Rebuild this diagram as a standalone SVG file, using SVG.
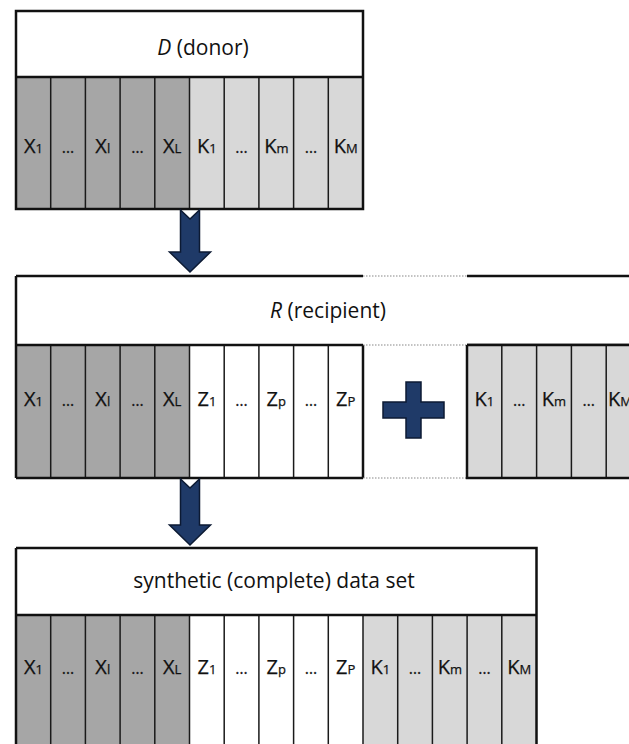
<svg xmlns="http://www.w3.org/2000/svg" width="629" height="744" viewBox="0 0 629 744">
<style>
.dk{fill:#a6a6a6}
.lt{fill:#d8d8d8}
.wh{fill:#ffffff}
.div{stroke:#1a1a1a;stroke-width:1.5;fill:none}
.out{stroke:#111;stroke-width:2.5;fill:none}
.dot{stroke:#888;stroke-width:1.2;stroke-dasharray:1.5 1.5;fill:none}
.hd{font-family:"Open Sans",Lato,sans-serif;font-size:21px;fill:#111;text-anchor:middle}
.lb{font-family:"Open Sans",Lato,sans-serif;font-size:20px;fill:#111;text-anchor:middle;stroke:#111;stroke-width:0.25}
.sb{font-size:13px}
.el{font-size:16px}
.arr{fill:#1f3a68;stroke:#0c1a33;stroke-width:1.5;stroke-linejoin:miter}
</style>
<rect width="629" height="744" fill="#ffffff"/>

<!-- D (donor) -->
<g id="node-donor">
  <rect x="16" y="11" width="347" height="66" class="wh"/>
  <rect x="16" y="77" width="173.5" height="132" class="dk"/>
  <rect x="189.5" y="77" width="173.5" height="132" class="lt"/>
  <path class="div" d="M50.7 77V209M85.4 77V209M120.1 77V209M154.8 77V209M189.5 77V209M224.2 77V209M258.9 77V209M293.6 77V209M328.3 77V209"/>
  <path class="out" d="M16 77H363"/>
  <rect x="16" y="11" width="347" height="198" class="out"/>
  <text class="hd" x="203" y="55"><tspan font-style="italic">D</tspan>  (donor)</text>
  <g class="lb">
    <text x="33.4" y="153">X<tspan class="sb">1</tspan></text>
    <text x="68.1" y="153" class="el">…</text>
    <text x="102.8" y="153">X<tspan class="sb">l</tspan></text>
    <text x="137.5" y="153" class="el">…</text>
    <text x="172.2" y="153">X<tspan class="sb">L</tspan></text>
    <text x="206.9" y="153">K<tspan class="sb">1</tspan></text>
    <text x="241.6" y="153" class="el">…</text>
    <text x="276.3" y="153">K<tspan class="sb">m</tspan></text>
    <text x="311" y="153" class="el">…</text>
    <text x="345.7" y="153">K<tspan class="sb">M</tspan></text>
  </g>
</g>

<!-- R (recipient) -->
<g id="node-recipient">
  <rect x="16" y="276" width="625" height="69" class="wh"/>
  <rect x="16" y="345" width="173.5" height="133" class="dk"/>
  <rect x="189.5" y="345" width="173.5" height="133" class="wh"/>
  <path class="div" d="M50.7 345V478M85.4 345V478M120.1 345V478M154.8 345V478M189.5 345V478M224.2 345V478M258.9 345V478M293.6 345V478M328.3 345V478"/>
  <path class="out" d="M16 276H363M467 276H641M16 345H363M467 345H641M16 478H363M16 276V478M363 345V478"/>
  <path class="dot" d="M363 276H467M363 345H467M363 478H467"/>
  <text class="hd" x="328" y="318"><tspan font-style="italic">R</tspan>  (recipient)</text>
  <g class="lb">
    <text x="33.4" y="406">X<tspan class="sb">1</tspan></text>
    <text x="68.1" y="406" class="el">…</text>
    <text x="102.8" y="406">X<tspan class="sb">l</tspan></text>
    <text x="137.5" y="406" class="el">…</text>
    <text x="172.2" y="406">X<tspan class="sb">L</tspan></text>
    <text x="206.9" y="406">Z<tspan class="sb">1</tspan></text>
    <text x="241.6" y="406" class="el">…</text>
    <text x="276.3" y="406">Z<tspan class="sb">p</tspan></text>
    <text x="311" y="406" class="el">…</text>
    <text x="345.7" y="406">Z<tspan class="sb">P</tspan></text>
  </g>
</g>

<!-- K block added to R -->
<g id="node-k-block">
  <rect x="467" y="345" width="174" height="133" class="lt"/>
  <path class="div" d="M501.8 345V478M536.6 345V478M571.4 345V478M606.2 345V478"/>
  <path class="out" d="M467 345V478H641M467 345H641"/>
  <g class="lb">
    <text x="484.4" y="406">K<tspan class="sb">1</tspan></text>
    <text x="519.2" y="406" class="el">…</text>
    <text x="554" y="406">K<tspan class="sb">m</tspan></text>
    <text x="588.8" y="406" class="el">…</text>
    <text x="608" y="406" text-anchor="start">K<tspan class="sb">M</tspan></text>
  </g>
</g>

<!-- plus sign -->
<g id="node-plus">
  <path class="arr" d="M406 382H421V402H444V418H421V438H406V418H383V402H406Z"/>
</g>

<!-- synthetic data set -->
<g id="node-synthetic">
  <rect x="16" y="548" width="520.5" height="67" class="wh"/>
  <rect x="16" y="615" width="173.5" height="140" class="dk"/>
  <rect x="189.5" y="615" width="173.5" height="140" class="wh"/>
  <rect x="363" y="615" width="173.5" height="140" class="lt"/>
  <path class="div" d="M50.7 615V744M85.4 615V744M120.1 615V744M154.8 615V744M189.5 615V744M224.2 615V744M258.9 615V744M293.6 615V744M328.3 615V744M363 615V744M397.7 615V744M432.4 615V744M467.1 615V744M501.8 615V744"/>
  <path class="out" d="M16 615H536.5M16 548H536.5V746M16 548V746"/>
  <text class="hd" x="274" y="588">synthetic (complete) data set</text>
  <g class="lb">
    <text x="33.4" y="674">X<tspan class="sb">1</tspan></text>
    <text x="68.1" y="674" class="el">…</text>
    <text x="102.8" y="674">X<tspan class="sb">l</tspan></text>
    <text x="137.5" y="674" class="el">…</text>
    <text x="172.2" y="674">X<tspan class="sb">L</tspan></text>
    <text x="206.9" y="674">Z<tspan class="sb">1</tspan></text>
    <text x="241.6" y="674" class="el">…</text>
    <text x="276.3" y="674">Z<tspan class="sb">p</tspan></text>
    <text x="311" y="674" class="el">…</text>
    <text x="345.7" y="674">Z<tspan class="sb">P</tspan></text>
    <text x="380.4" y="674">K<tspan class="sb">1</tspan></text>
    <text x="415.1" y="674" class="el">…</text>
    <text x="449.8" y="674">K<tspan class="sb">m</tspan></text>
    <text x="484.5" y="674" class="el">…</text>
    <text x="519.2" y="674">K<tspan class="sb">M</tspan></text>
  </g>
</g>

<!-- connectors -->
<g id="connectors">
  <path class="arr" d="M180.5 210L190 219L199.5 210V252H210.5L190 272L169.5 252H180.5Z"/>
  <path class="arr" d="M180.5 479L190 488L199.5 479V525H210.5L190 545L169.5 525H180.5Z"/>
</g>
</svg>
